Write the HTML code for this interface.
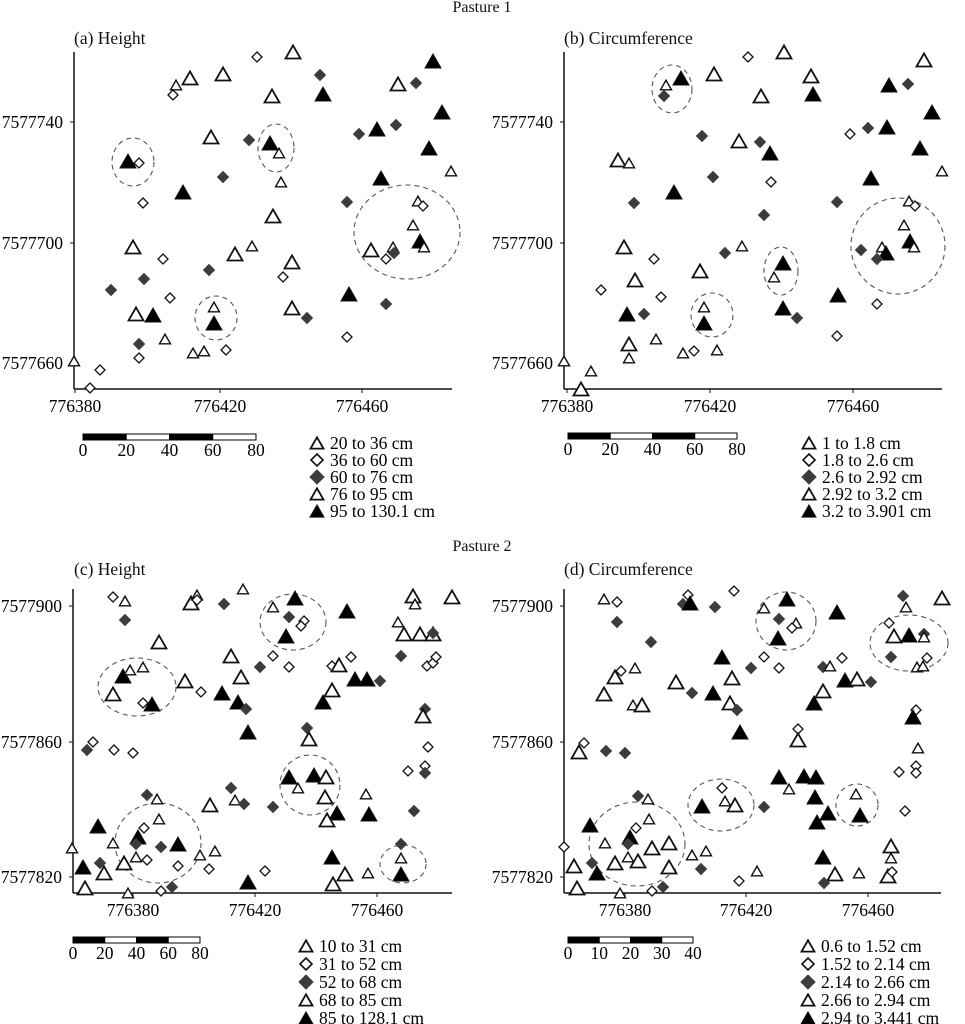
<!DOCTYPE html>
<html><head><meta charset="utf-8"><style>
html,body{margin:0;padding:0;background:#fff;}
svg{display:block;font-family:"Liberation Serif",serif;}
</style></head><body>
<svg id="s" width="965" height="1024" viewBox="0 0 965 1024" xmlns="http://www.w3.org/2000/svg">
<rect width="965" height="1024" fill="#fff"/>
<g font-size="17.5" fill="#111">
<text x="482" y="12" text-anchor="middle" font-size="16">Pasture 1</text>
<text x="482" y="551" text-anchor="middle" font-size="16">Pasture 2</text>
<text x="74" y="44">(a) Height</text>
<text x="564" y="44">(b) Circumference</text>
<text x="74" y="575">(c) Height</text>
<text x="564" y="575">(d) Circumference</text>
</g>
<g id="g"></g>
</svg>
<script>
var g=document.getElementById('g');var h='';var FS=17.5;
function axes(l,t,b,r,ys,xs){
 h+='<line x1="'+l+'" y1="'+t+'" x2="'+l+'" y2="'+b+'" stroke="#111" stroke-width="1.5"/>';
 h+='<line x1="'+l+'" y1="'+b+'" x2="'+r+'" y2="'+b+'" stroke="#111" stroke-width="1.5"/>';
 ys.forEach(function(y){h+='<line x1="'+(l-4)+'" y1="'+y[0]+'" x2="'+l+'" y2="'+y[0]+'" stroke="#111"/><text x="'+(l-11)+'" y="'+(y[0]+6)+'" text-anchor="end" font-size="'+FS+'">'+y[1]+'</text>';});
 xs.forEach(function(x){h+='<line x1="'+x[0]+'" y1="'+b+'" x2="'+x[0]+'" y2="'+(b+4)+'" stroke="#111"/><text x="'+x[0]+'" y="'+(b+23)+'" text-anchor="middle" font-size="'+FS+'">'+x[1]+'</text>';});
}
function tri(x,y,s,fill,sw){var hh=s*0.87;return '<polygon points="'+(x-s/2)+','+(y+hh/2)+' '+(x+s/2)+','+(y+hh/2)+' '+x+','+(y-hh/2)+'" fill="'+fill+'" stroke="#111" stroke-width="'+sw+'"/>';}
function dia(x,y,r,fill,sw){return '<polygon points="'+x+','+(y-r)+' '+(x+r)+','+y+' '+x+','+(y+r)+' '+(x-r)+','+y+'" fill="'+fill+'" stroke="'+(fill=='#fff'?'#111':fill)+'" stroke-width="'+sw+'"/>';}
function mk(x,y,t){
 if(t=='t')return tri(x,y,11,'#fff',1.4);
 if(t=='T')return tri(x,y,15,'#fff',1.8);
 if(t=='F')return tri(x,y,16,'#000',1);
 if(t=='d')return dia(x,y,5,'#fff',1.3);
 if(t=='D')return dia(x,y,5.5,'#3c3c3c',1);
}
function pts(a){a.split(';').forEach(function(p){p=p.trim();if(!p)return;var q=p.split(',');h+=mk(+q[0],+q[1],q[2]);});}
function circ(c){c.forEach(function(e){h+='<ellipse cx="'+e[0]+'" cy="'+e[1]+'" rx="'+e[2]+'" ry="'+e[3]+'" fill="none" stroke="#555" stroke-width="1.1" stroke-dasharray="5,4"/>';});}
function bar(x0,x1,y,labels){var w=(x1-x0)/4;for(var i=0;i<4;i++){h+='<rect x="'+(x0+i*w)+'" y="'+y+'" width="'+w+'" height="6" fill="'+(i%2?'#fff':'#000')+'" stroke="#000" stroke-width="1"/>';}
 labels.forEach(function(l,i){h+='<text x="'+(x0+i*w)+'" y="'+(y+22)+'" text-anchor="middle" font-size="'+FS+'">'+l+'</text>';});}
function leg(x,y0,dy,labs){var ty=['T','d','D','T','F'];labs.forEach(function(l,i){var y=y0+i*dy;var m=ty[i];
 h+= m=='T'?tri(x,y,13,'#fff',1.8):m=='F'?tri(x,y,14,'#000',1):m=='d'?dia(x,y,6,'#fff',1.6):dia(x,y,7,'#3c3c3c',1);
 h+='<text x="'+(x+13)+'" y="'+(y+6)+'" font-size="'+FS+'">'+l+'</text>';});}

axes(74,52,389,452,[[122,'7577740'],[243,'7577700'],[363,'7577660']],[[75,'776380'],[220,'776420'],[362,'776460']]);
circ([[133,162,21,24],[276,148,18,24],[407,232,53,47],[216,318,21,22]]);
pts("257,57,d;293,52,T;433,61,F;320,75,D;223,74,T;190,78,T;176,85,t;173,95,d;398,84,T;416,83,D;272,96,T;323,94,F;442,112,F;396,125,D;377,129,F;359,134,D;211,137,T;249,140,D;270,143,F;279,153,t;429,148,F;128,161,F;139,163,d;451,171,t;223,177,D;381,178,F;281,182,t;183,192,F;143,203,d;347,202,D;418,201,t;423,206,d;273,216,T;413,225,t;420,241,F;424,247,t;133,247,T;371,250,T;393,247,t;394,253,D;386,259,d;252,246,t;235,254,T;163,259,d;292,262,T;209,270,D;283,277,d;144,279,D;111,290,D;349,294,F;170,298,d;386,304,D;136,314,T;153,315,F;292,308,T;214,307,t;214,323,F;307,318,D;347,337,d;165,339,t;139,344,D;193,353,t;204,351,t;226,350,d;139,358,d;74,361,t;100,370,d;90,388,d");
bar(83,256,434,['0','20','40','60','80']);
leg(317,443,17,['20 to 36 cm','36 to 60 cm','60 to 76 cm','76 to 95 cm','95 to 130.1 cm']);

axes(564,52,389,942,[[122,'7577740'],[243,'7577700'],[363,'7577660']],[[567,'776380'],[710,'776420'],[853,'776460']]);
circ([[672,89,20,24],[781,271,17,24],[712,315,21,22],[898,246,47,48]]);
pts("748,57,d;784,52,T;924,60,T;714,74,T;811,76,T;681,78,F;666,85,t;664,96,D;761,96,T;813,94,F;889,85,F;908,84,D;932,112,F;850,134,d;868,128,D;887,127,F;702,136,D;739,141,T;760,142,D;770,153,F;920,148,F;618,160,T;629,163,t;942,171,t;713,177,D;771,182,d;871,178,F;674,192,F;634,203,D;837,202,D;909,201,t;915,206,d;764,215,D;904,225,t;910,241,F;914,247,t;624,247,T;742,246,t;725,253,D;654,259,d;861,250,D;882,247,t;886,253,F;877,259,D;783,263,F;700,271,T;774,277,t;635,280,T;601,290,d;661,297,d;838,295,F;877,304,d;627,314,F;644,314,D;704,307,t;704,323,F;783,308,F;797,318,D;837,336,d;656,339,t;629,344,T;629,358,t;683,353,t;694,351,d;717,350,t;564,361,t;591,371,t;581,389,T");
bar(568,737,433,['0','20','40','60','80']);
leg(809,443,17,['1 to 1.8 cm','1.8 to 2.6 cm','2.6 to 2.92 cm','2.92 to 3.2 cm','3.2 to 3.901 cm']);

axes(73,589,893,452,[[606,'7577900'],[742,'7577860'],[877,'7577820']],[[133,'776380'],[255,'776420'],[377,'776460']]);
circ([[293,622,33,28],[137,687,39,29],[310,785,30,30],[158,843,43,40],[403,864,23,19]]);
pts("113,597,d;125,601,t;191,603,T;197,595,t;197,600,d;243,589,t;224,604,D;273,607,t;295,598,F;289,617,D;304,621,d;301,626,d;286,636,F;347,611,F;413,596,T;415,604,t;452,597,T;125,620,D;159,642,T;398,622,t;404,634,T;420,634,T;433,634,T;433,633,D;231,656,T;273,656,d;260,667,D;289,667,d;332,666,d;339,665,T;351,657,d;401,656,D;427,666,d;433,663,d;436,657,d;123,676,F;130,670,t;143,667,t;113,694,T;143,703,d;152,704,F;185,681,T;201,692,d;222,693,F;241,677,T;238,702,F;246,709,D;248,732,F;355,679,F;367,679,F;380,681,D;332,690,T;323,702,F;425,709,D;423,716,T;307,728,D;309,739,T;93,742,d;87,750,D;114,750,d;133,753,d;428,747,d;425,766,d;425,773,D;408,771,d;289,777,F;314,775,F;326,777,T;298,788,t;325,797,T;231,788,D;147,795,D;157,799,t;210,805,T;235,800,t;244,804,D;273,807,D;366,794,t;337,813,F;369,814,F;327,820,T;414,811,D;98,826,F;144,828,d;159,819,t;138,837,F;136,844,D;161,847,D;178,844,F;113,843,t;72,848,t;200,855,t;215,851,t;401,844,D;401,858,t;401,874,F;83,867,F;100,863,D;124,863,T;136,857,t;147,860,d;178,866,d;209,869,d;265,871,d;104,873,T;332,857,F;345,874,T;368,873,t;85,888,T;128,893,t;161,891,d;172,887,D;248,882,F;333,884,T");
bar(73,200,937,['0','20','40','60','80']);
leg(306,946,18,['10 to 31 cm','31 to 52 cm','52 to 68 cm','68 to 85 cm','85 to 128.1 cm']);

axes(564,589,893,941,[[606,'7577900'],[742,'7577860'],[877,'7577820']],[[625,'776380'],[746,'776420'],[868,'776460']]);
circ([[786,621,30,29],[909,643,39,28],[721,805,33,26],[857,805,21,21],[637,844,48,42]]);
pts("604,599,t;617,602,d;688,595,d;683,604,D;690,603,F;715,607,D;734,591,d;764,608,t;787,599,F;779,619,D;796,623,t;792,628,d;778,638,F;837,612,F;903,596,D;906,607,t;942,598,T;617,622,D;651,642,D;889,623,d;894,636,T;909,635,F;924,634,D;924,637,t;891,657,D;927,658,d;917,667,t;923,666,t;722,657,F;764,657,d;751,668,D;779,668,d;823,667,D;830,666,t;842,658,d;845,680,F;857,679,T;871,682,D;823,691,T;814,703,F;615,677,T;621,671,d;635,668,t;604,694,T;633,705,t;642,705,T;676,682,T;692,693,D;713,693,F;732,678,T;730,703,T;737,710,D;740,732,F;916,710,d;913,717,F;798,729,d;798,740,T;918,748,t;579,752,T;584,743,d;606,751,D;625,753,D;899,772,d;916,766,d;916,773,d;779,777,F;804,776,F;816,777,F;789,789,t;815,797,F;828,813,F;817,822,F;856,794,t;860,815,F;905,811,d;638,796,D;648,799,t;702,806,F;722,788,d;725,801,t;735,805,T;764,807,D;590,825,F;649,819,t;636,828,d;630,837,F;628,844,D;605,843,t;652,848,T;669,843,T;564,847,d;692,855,t;706,851,t;891,846,T;891,858,t;888,876,T;892,872,d;574,866,T;592,863,D;597,873,F;615,863,T;628,857,t;638,861,T;669,867,T;701,869,D;823,857,F;757,871,t;739,881,d;835,874,T;859,873,t;824,883,D;577,888,T;620,893,t;652,891,d;663,887,D");
bar(568,693,937,['0','10','20','30','40']);
leg(808,946,18,['0.6 to 1.52 cm','1.52 to 2.14 cm','2.14 to 2.66 cm','2.66 to 2.94 cm','2.94 to 3.441 cm']);

g.innerHTML=h;
</script>
</body></html>
